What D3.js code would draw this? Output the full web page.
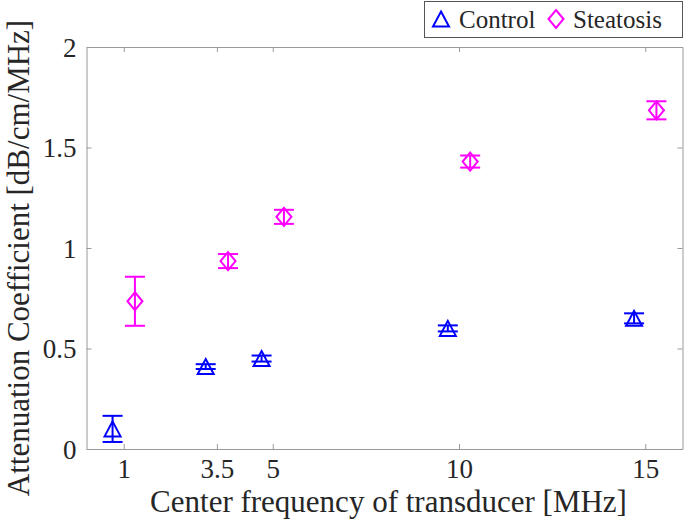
<!DOCTYPE html>
<html>
<head>
<meta charset="utf-8">
<script src="https://cdn.jsdelivr.net/npm/d3@7"></script>
<style>
  html, body { margin: 0; padding: 0; background: #fff; }
  svg { display: block; }
  text { font-family: "Liberation Serif", "Times New Roman", serif; }
</style>
</head>
<body>
<svg id="chart" width="685" height="523"></svg>
<script>
// ---- data ----
const frequencies = [1, 3.5, 5, 10, 15];
const xTickLabels = ["1", "3.5", "5", "10", "15"];
const yTicks = [0, 0.5, 1, 1.5, 2];
const yTickLabels = ["0", "0.5", "1", "1.5", "2"];
const controlMean = [0.10, 0.41, 0.45, 0.60, 0.65];
const controlErr  = [0.065, 0.012, 0.015, 0.015, 0.025];
const steatosisMean = [0.735, 0.935, 1.155, 1.43, 1.685];
const steatosisErr  = [0.122, 0.035, 0.035, 0.03, 0.045];
const seriesNames = ["Control", "Steatosis"];
const groupOffset = 0.3;

// ---- layout ----
const svg = d3.select("#chart");
const serif = '"Liberation Serif", "Times New Roman", serif';
const pLeft = 86.5, pRight = 682.5, pTop = 47, pBottom = 449;
const x = d3.scaleLinear().domain([0, 16]).range([pLeft, pRight]);
const y = d3.scaleLinear().domain([0, 2]).range([pBottom, pTop]);
const axisColor = "#9a9a9a";
const textColor = "#262626";
const blue = "#0000ff", magenta = "#ff00ff";

function styleAxis(g, showLabels) {
  g.attr("font-family", serif).attr("font-size", 27);
  g.select(".domain").attr("stroke", axisColor).attr("stroke-width", 1);
  g.selectAll(".tick line").attr("stroke", axisColor).attr("stroke-width", 1);
  if (!showLabels) g.selectAll(".tick text").remove();
  else g.selectAll(".tick text").attr("fill", textColor)
        .attr("font-family", serif).style("font-family", serif)
        .style("font-size", "27px");
}

const fmtX = (d) => xTickLabels[frequencies.indexOf(d)];
const fmtY = (d) => yTickLabels[yTicks.indexOf(d)];

const gxB = svg.append("g").attr("transform", `translate(0,${pBottom})`)
  .call(d3.axisBottom(x).tickValues(frequencies).tickFormat(fmtX).tickSizeInner(-5).tickSizeOuter(0));
styleAxis(gxB, true);
gxB.selectAll(".tick text").attr("y", 29).attr("dy", 0);

const gxT = svg.append("g").attr("transform", `translate(0,${pTop})`)
  .call(d3.axisTop(x).tickValues(frequencies).tickSizeInner(-5).tickSizeOuter(0));
styleAxis(gxT, false);

const gyL = svg.append("g").attr("transform", `translate(${pLeft},0)`)
  .call(d3.axisLeft(y).tickValues(yTicks).tickFormat(fmtY).tickSizeInner(-5).tickSizeOuter(0));
styleAxis(gyL, true);
gyL.selectAll(".tick text").attr("x", -10).attr("dy", "0.34em");

const gyR = svg.append("g").attr("transform", `translate(${pRight},0)`)
  .call(d3.axisRight(y).tickValues(yTicks).tickSizeInner(-5).tickSizeOuter(0));
styleAxis(gyR, false);

// ---- axis titles ----
svg.append("text")
  .attr("x", (pLeft + pRight) / 2 + 4).attr("y", 512)
  .attr("text-anchor", "middle").attr("fill", textColor)
  .style("font-size", "31px")
  .text("Center frequency of transducer [MHz]");

svg.append("text")
  .attr("transform", `translate(29,${(pTop + pBottom) / 2 + 10}) rotate(-90)`)
  .attr("text-anchor", "middle").attr("fill", textColor)
  .style("font-size", "31px")
  .text("Attenuation Coefficient [dB/cm/MHz]");

// ---- markers ----
function trianglePath(cx, cy) {
  const w = 16, h = 15;
  return `M${cx},${cy - h / 2}L${cx + w / 2},${cy + h / 2}L${cx - w / 2},${cy + h / 2}Z`;
}
function diamondPath(cx, cy) {
  const w = 15, h = 18;
  return `M${cx},${cy - h / 2}L${cx + w / 2},${cy}L${cx},${cy + h / 2}L${cx - w / 2},${cy}Z`;
}

function drawSeries(means, errs, offset, color, shape) {
  const g = svg.append("g").attr("stroke", color).attr("stroke-width", 2).attr("fill", "none");
  const data = frequencies.map((f, i) => ({ f: f + offset, m: means[i], e: errs[i] }));
  const cap = 10;
  data.forEach(d => {
    const cx = x(d.f);
    g.append("line").attr("x1", cx).attr("x2", cx).attr("y1", y(d.m - d.e)).attr("y2", y(d.m + d.e));
    g.append("line").attr("x1", cx - cap).attr("x2", cx + cap).attr("y1", y(d.m - d.e)).attr("y2", y(d.m - d.e));
    g.append("line").attr("x1", cx - cap).attr("x2", cx + cap).attr("y1", y(d.m + d.e)).attr("y2", y(d.m + d.e));
    g.append("path").attr("d", shape(cx, y(d.m)));
  });
}
drawSeries(controlMean, controlErr, -groupOffset, blue, trianglePath);
drawSeries(steatosisMean, steatosisErr, groupOffset, magenta, diamondPath);

// ---- legend ----
const lg = svg.append("g");
lg.append("rect").attr("x", 424.5).attr("y", 1.5).attr("width", 258).attr("height", 36)
  .attr("fill", "#fff").attr("stroke", "#555").attr("stroke-width", 1);
lg.append("path").attr("d", trianglePath(441, 19)).attr("fill", "none").attr("stroke", blue).attr("stroke-width", 2);
lg.append("text").attr("x", 459).attr("y", 28).attr("fill", textColor).style("font-size", "25px").text(seriesNames[0]);
lg.append("path").attr("d", diamondPath(556, 19)).attr("fill", "none").attr("stroke", magenta).attr("stroke-width", 2);
lg.append("text").attr("x", 573).attr("y", 28).attr("fill", textColor).style("font-size", "25px").text(seriesNames[1]);
</script>
</body>
</html>
